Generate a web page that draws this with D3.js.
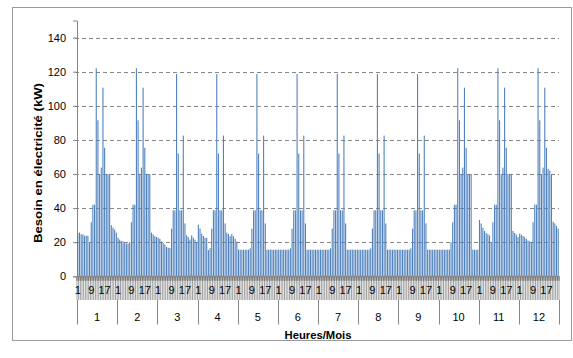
<!DOCTYPE html>
<html>
<head>
<meta charset="utf-8">
<script src="https://cdn.jsdelivr.net/npm/d3@7"></script>
<style>
  html, body { margin: 0; padding: 0; background: #fff; }
  svg { display: block; }
  text { font-family: "Liberation Sans", Arial, sans-serif; fill: #000; }
</style>
</head>
<body>
<svg id="chart" width="573" height="358"></svg>
<script>
// Hourly electricity demand (kW), one typical day (hours 1..24) per month
const months = ["1", "2", "3", "4", "5", "6", "7", "8", "9", "10", "11", "12"];
const hourLabels = [1, 9, 17];
const yTicks = [0, 20, 40, 60, 80, 100, 120, 140];

const m1  = [25.6, 25.6, 24.6, 24.6, 23.8, 23.8, 23.8, 20, 31.7, 42, 42, 122, 91.5, 60, 63.7, 110.6, 75.4, 60, 60, 60, 30, 28.5, 27.4, 25.6];
const m2  = [22.7, 21.5, 20.7, 20.5, 20.1, 19.2, 19.2, 20, 31.7, 42, 42, 122, 91.5, 60, 63.7, 110.6, 75.4, 60, 60, 60, 25.6, 24.6, 23.5, 23];
const m3  = [22.7, 22, 20.5, 19.5, 18.6, 17.2, 16.8, 16.6, 28, 38.7, 38.7, 118.6, 72, 38.7, 38.7, 82.5, 31, 24, 23, 21.5, 24, 22.7, 21.5, 20];
const m4  = [30.3, 28, 25, 23.6, 22.7, 22.5, 15.4, 16.6, 28, 38.7, 38.7, 118.6, 72, 38.7, 38.7, 82.5, 31, 25.6, 24.8, 23.5, 24.8, 23.5, 22, 20.3];
const m5  = [15.6, 15.6, 15.6, 15.6, 15.6, 15.6, 15.6, 16.4, 28, 38.7, 38.7, 118.6, 72, 38.7, 38.7, 82.5, 31, 15.6, 15.6, 15.6, 15.6, 15.6, 15.6, 15.6];
const m6  = [15.6, 15.6, 15.6, 15.6, 15.6, 15.6, 15.6, 16.4, 28, 38.7, 38.7, 118.6, 72, 38.7, 38.7, 82.5, 31, 15.6, 15.6, 15.6, 15.6, 15.6, 15.6, 15.6];
const m7  = [15.6, 15.6, 15.6, 15.6, 15.6, 15.6, 15.6, 16.4, 28, 38.7, 38.7, 118.6, 72, 38.7, 38.7, 82.5, 31, 15.6, 15.6, 15.6, 15.6, 15.6, 15.6, 15.6];
const m8  = [15.6, 15.6, 15.6, 15.6, 15.6, 15.6, 15.6, 16.4, 28, 38.7, 38.7, 118.6, 72, 38.7, 38.7, 82.5, 31, 15.6, 15.6, 15.6, 15.6, 15.6, 15.6, 15.6];
const m9  = [15.6, 15.6, 15.6, 15.6, 15.6, 15.6, 15.6, 16.4, 28, 38.7, 38.7, 118.6, 72, 38.7, 38.7, 82.5, 31, 15.6, 15.6, 15.6, 15.6, 15.6, 15.6, 15.6];
const m10 = [15.6, 15.6, 15.6, 15.6, 15.6, 15.6, 15.6, 20, 31.7, 42, 42, 122, 91.5, 60, 63.7, 110.6, 75.4, 60, 60, 60, 15.6, 15.6, 15.6, 15.6];
const m11 = [33, 31, 28.5, 26.6, 25.4, 24.6, 24, 20, 31.7, 42, 42, 122, 91.5, 60, 63.7, 110.6, 75.4, 60, 60, 60, 26.6, 25.4, 24.4, 23];
const m12 = [25, 24.4, 23.6, 23, 22, 21, 20.5, 20, 31.7, 42, 42, 122, 91.5, 60, 63.7, 110.6, 75.4, 63, 62, 60, 32, 31, 29.5, 28];

const monthly = [m1, m2, m3, m4, m5, m6, m7, m8, m9, m10, m11, m12];

// Flatten into 288 hourly records
const data = [];
monthly.forEach((vals, mi) => {
  vals.forEach((v, hi) => data.push({ key: mi * 24 + hi, month: months[mi], hour: hi + 1, value: v }));
});

const svg = d3.select("#chart");
const plot = { left: 77, right: 559, top: 20.5, bottom: 276.3 };
const axisGrey = "#868686";

// Outer chart frame
svg.append("rect")
  .attr("x", 12.5).attr("y", 7.5)
  .attr("width", 559).attr("height", 333)
  .attr("fill", "#fff").attr("stroke", "#9a9a9a").attr("stroke-width", 1);

const x = d3.scaleBand()
  .domain(data.map(d => d.key))
  .range([plot.left, plot.right])
  .paddingInner(0.35)
  .paddingOuter(0.175);

const xStep = x.step();
const xMonth = d3.scaleBand().domain(months).range([plot.left, plot.right]);

const y = d3.scaleLinear().domain([0, 150]).range([plot.bottom, plot.top]);

// Horizontal dashed gridlines
svg.append("g")
  .selectAll("line")
  .data(yTicks.filter(t => t > 0))
  .join("line")
  .attr("x1", plot.left - 2).attr("x2", plot.right)
  .attr("y1", d => Math.round(y(d)) + 0.5).attr("y2", d => Math.round(y(d)) + 0.5)
  .attr("stroke", axisGrey).attr("stroke-width", 1)
  .attr("stroke-dasharray", "4,3");

// Y axis
const yAxis = svg.append("g")
  .attr("transform", `translate(${plot.left},0)`)
  .call(d3.axisLeft(y).tickValues(yTicks).tickSize(4).tickPadding(7).tickFormat(d3.format("d")));
yAxis.select(".domain").attr("stroke", axisGrey);
yAxis.selectAll(".tick line").attr("stroke", axisGrey);
yAxis.selectAll(".tick text")
  .style("font-family", "'Liberation Sans', Arial, sans-serif")
  .style("font-size", "11px").attr("fill", "#000");

// Columns
svg.append("g")
  .selectAll("rect")
  .data(data)
  .join("rect")
  .attr("x", d => x(d.key))
  .attr("width", x.bandwidth())
  .attr("y", d => y(d.value))
  .attr("height", d => y(0) - y(d.value))
  .attr("fill", "#4F81BD");

// Hour row: a tick between every hourly category
const rowTop = plot.bottom, rowMid = 300, rowBottom = 324.5;
const boundaries = d3.range(data.length + 1).map(i => plot.left + i * xStep);
svg.append("g")
  .selectAll("line")
  .data(boundaries)
  .join("line")
  .attr("x1", d => d).attr("x2", d => d)
  .attr("y1", rowTop).attr("y2", rowMid)
  .attr("stroke", axisGrey).attr("stroke-width", 0.8);
svg.append("g")
  .selectAll("line")
  .data(boundaries)
  .join("line")
  .attr("x1", d => d).attr("x2", d => d)
  .attr("y1", rowTop).attr("y2", rowTop + 4.5)
  .attr("stroke", "#7a7a7a").attr("stroke-width", 1.2);

// Hour labels every 8 hours
const labelled = data.filter(d => hourLabels.includes(d.hour));
const hourAxis = svg.append("g")
  .attr("transform", `translate(0,${rowTop})`)
  .call(d3.axisBottom(x)
    .tickValues(labelled.map(d => d.key))
    .tickSize(0).tickPadding(10)
    .tickFormat(k => String(data[k].hour)));
hourAxis.select(".domain").attr("stroke", axisGrey);
hourAxis.selectAll(".tick text")
  .style("font-family", "'Liberation Sans', Arial, sans-serif")
  .style("font-size", "11px").attr("fill", "#000");

// X axis baseline
svg.append("line")
  .attr("x1", plot.left).attr("x2", plot.right)
  .attr("y1", plot.bottom).attr("y2", plot.bottom)
  .attr("stroke", axisGrey);

// Month row separators and labels
svg.append("g")
  .selectAll("line")
  .data(months.map(m => xMonth(m)).concat([plot.right]))
  .join("line")
  .attr("x1", d => Math.round(d) + 0.5).attr("x2", d => Math.round(d) + 0.5)
  .attr("y1", rowMid).attr("y2", rowBottom)
  .attr("stroke", axisGrey).attr("stroke-width", 1);

svg.append("g")
  .selectAll("text")
  .data(months)
  .join("text")
  .attr("x", d => xMonth(d) + xMonth.bandwidth() / 2)
  .attr("y", 321)
  .attr("text-anchor", "middle")
  .style("font-size", "11px")
  .text(d => d);

// Axis titles
svg.append("text")
  .attr("x", (plot.left + plot.right) / 2)
  .attr("y", 339)
  .attr("text-anchor", "middle")
  .style("font-size", "10px").style("font-weight", "bold")
  .attr("textLength", 67).attr("lengthAdjust", "spacingAndGlyphs")
  .text("Heures/Mois");

svg.append("text")
  .attr("transform", "translate(42,163) rotate(-90)")
  .attr("text-anchor", "middle")
  .style("font-size", "10.5px").style("font-weight", "bold")
  .attr("textLength", 160).attr("lengthAdjust", "spacingAndGlyphs")
  .text("Besoin en électricité (kW)");
</script>
</body>
</html>
